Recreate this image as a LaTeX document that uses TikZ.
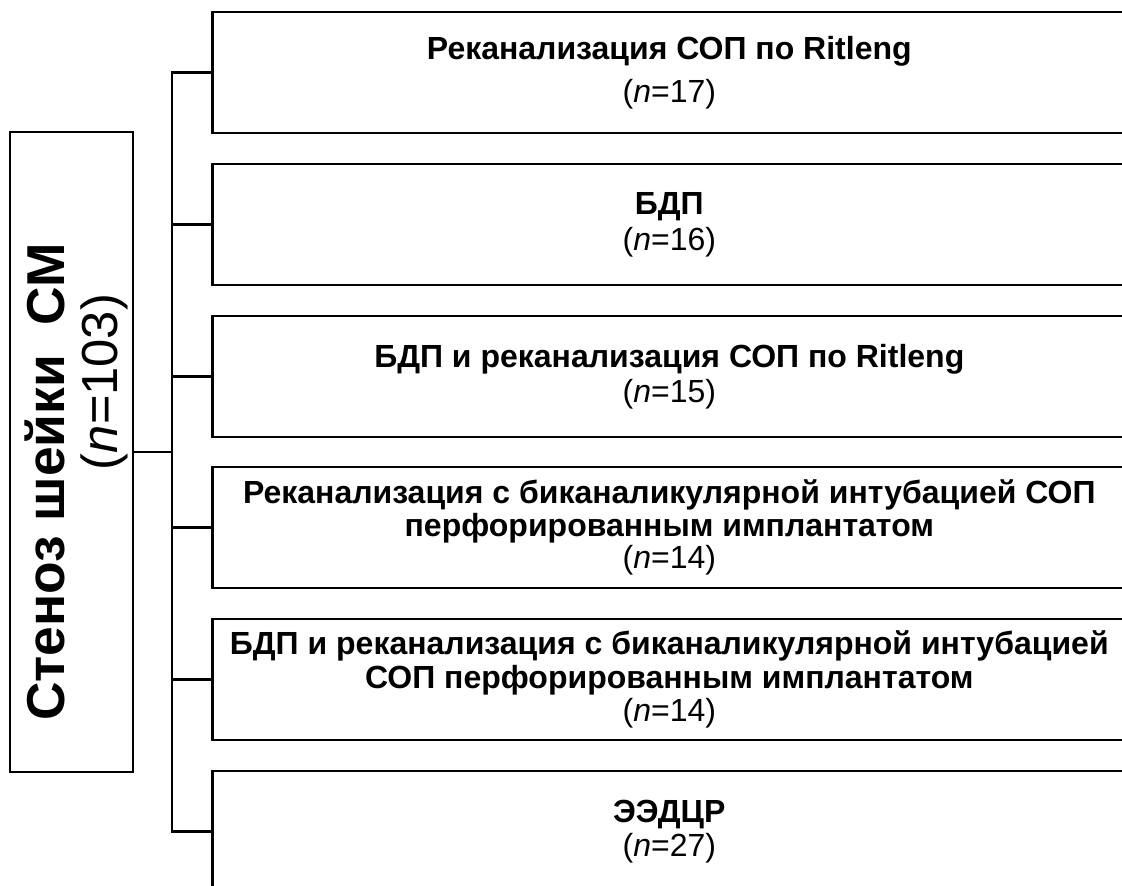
\documentclass[tikz,border=0pt]{standalone}
\usepackage{fontspec}
\setmainfont{Liberation Sans}
\usetikzlibrary{positioning}

\begin{document}
\begin{tikzpicture}[x=0.75pt,y=-0.75pt,line width=2pt,
    grp/.style={draw,anchor=west,minimum width=685.5pt,minimum height=90.75pt,
        inner sep=0pt,align=center,font=\fontsize{24}{25}\selectfont},
    big/.style={rotate=90,inner sep=0pt,font=\fontsize{38}{40}\selectfont}]
    \clip (0,0) rectangle (1122,886);

    \node[draw,minimum width=92.25pt,minimum height=480pt,inner sep=0pt] (stenoz) at (71.5,452) {};
    \node[big,font=\fontsize{40}{44}\selectfont\bfseries] (stitle) at (45,482) {Стеноз шейки\ \ СМ};
    \node[big] (scount) at (104,382) {(\textit{n}=103)};

    \node[grp] (b1) at (211,72.5) {\textbf{Реканализация СОП по Ritleng}\\[7pt](\textit{n}=17)};
    \node[grp] (b2) at (211,224.5) {\textbf{БДП}\\[2pt](\textit{n}=16)};
    \node[grp] (b3) at (211,376.5) {\textbf{БДП и реканализация СОП по Ritleng}\\[1pt](\textit{n}=15)};
    \node[grp] (b4) at (211,527.5) {\textbf{Реканализация с биканаликулярной интубацией СОП}\\
        \textbf{перфорированным имплантатом}\\[-1pt](\textit{n}=14)};
    \node[grp] (b5) at (211,679.5) {\textbf{БДП и реканализация с биканаликулярной интубацией}\\
        \textbf{СОП перфорированным имплантатом}\\(\textit{n}=14)};
    \node[grp] (b6) at (211,831.5) {\textbf{ЭЭДЦР}\\(\textit{n}=27)};

    \coordinate (bus) at (172,452);
    \draw (stenoz.east) -- (bus);
    \draw (b1.west) -| (bus) |- (b6.west);
    \foreach \i in {2,...,5}
        \draw (b\i.west) -- (b\i.west -| bus);

\end{tikzpicture}
\end{document}
